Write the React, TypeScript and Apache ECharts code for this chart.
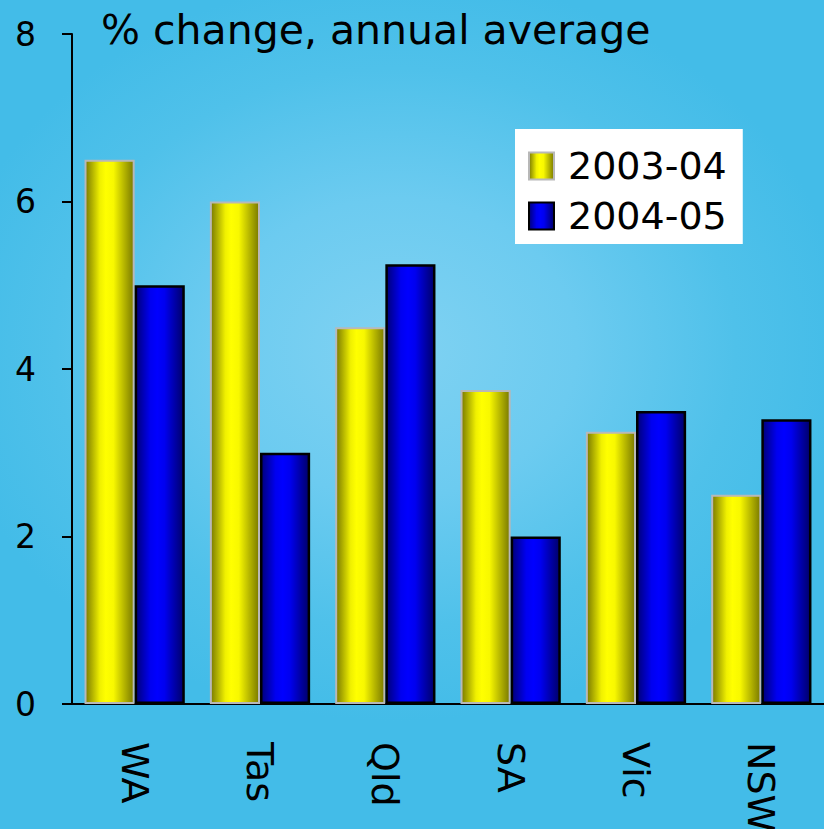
import React, { useEffect, useRef } from "react";
import * as echarts from "echarts";

const categories = ["WA", "Tas", "Qld", "SA", "Vic", "NSW"];
const series2003 = [6.5, 6.0, 4.5, 3.75, 3.25, 2.5];
const series2004 = [5.0, 3.0, 5.25, 2.0, 3.5, 3.4];
const seriesNames = ["2003-04", "2004-05"];
const titleText = "% change, annual average";

const FONT = "DejaVu Sans";

export default function App() {
  const ref = useRef<HTMLDivElement>(null);
  useEffect(() => {
    if (!ref.current) return;
    const chart = echarts.init(ref.current, undefined, { renderer: "svg" });
    const yellow = new echarts.graphic.LinearGradient(0, 0, 1, 0, [
      { offset: 0, color: "#7a7a00" },
      { offset: 0.3, color: "#f0f000" },
      { offset: 0.42, color: "#ffff00" },
      { offset: 0.58, color: "#f8f800" },
      { offset: 1, color: "#7a7a00" },
    ]);
    const blue = new echarts.graphic.LinearGradient(0, 0, 1, 0, [
      { offset: 0, color: "#00007a" },
      { offset: 0.3, color: "#0000f0" },
      { offset: 0.45, color: "#0000ff" },
      { offset: 0.6, color: "#0000f0" },
      { offset: 1, color: "#00006a" },
    ]);
    chart.setOption({
      animation: false,
      backgroundColor: "transparent",
      title: {
        text: titleText,
        left: 96,
        top: 4,
        textStyle: { fontFamily: FONT, fontSize: 41, fontWeight: "normal", color: "#000" },
      },
      legend: {
        orient: "vertical",
        left: 515,
        top: 129,
        backgroundColor: "#ffffff",
        padding: [18, 16, 9, 13],
        itemGap: 12,
        itemWidth: 25,
        itemHeight: 27,
        icon: "rect",
        textStyle: { fontFamily: FONT, fontSize: 38, color: "#000", padding: [0, 0, 0, 9] },
        data: seriesNames,
      },
      grid: {
        left: 72,
        right: 0,
        top: 34,
        bottom: 125,
        containLabel: false,
        outerBoundsMode: "none",
      },
      xAxis: {
        type: "category",
        data: categories,
        axisLine: { lineStyle: { color: "#000", width: 2 } },
        axisTick: { length: 14, lineStyle: { color: "#000", width: 2 } },
        axisLabel: {
          rotate: -90,
          margin: 38,
          fontFamily: FONT,
          fontSize: 38,
          color: "#000",
        },
      },
      yAxis: {
        type: "value",
        min: 0,
        max: 8,
        interval: 2,
        splitLine: { show: false },
        axisLine: { show: true, lineStyle: { color: "#000", width: 2 } },
        axisTick: { show: true, length: 10, lineStyle: { color: "#000", width: 2 } },
        axisLabel: { margin: 36, fontFamily: FONT, fontSize: 33, color: "#000" },
      },
      series: [
        {
          name: seriesNames[0],
          type: "bar",
          data: series2003,
          barGap: "0%",
          barCategoryGap: "20%",
          itemStyle: { color: yellow, borderColor: "#b8b8b8", borderWidth: 2 },
        },
        {
          name: seriesNames[1],
          type: "bar",
          data: series2004,
          barGap: "0%",
          barCategoryGap: "20%",
          itemStyle: { color: blue, borderColor: "#000", borderWidth: 2.5 },
        },
      ],
    });
    return () => chart.dispose();
  }, []);
  return (
    <div
      style={{
        position: "absolute",
        left: 0,
        top: 0,
        width: 824,
        height: 829,
        overflow: "hidden",
        background:
          "radial-gradient(ellipse 55% 45% at 48% 42%, #80d2f2 0%, #6ccbf0 40%, #4fc1ea 75%, #43bce8 100%), #43bce8",
      }}
    >
      <div ref={ref} style={{ width: 824, height: 829 }} />
    </div>
  );
}
